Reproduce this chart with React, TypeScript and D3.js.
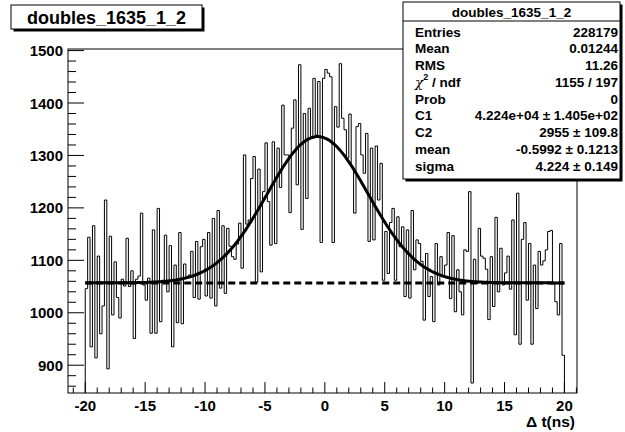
import React from "react";
import * as d3 from "d3";

// ---- data ----
const histLow = -20;
const binWidth = 0.2;
const countsA = [
  1046, 1144, 935, 1166, 914, 1108, 960, 1013, 1215, 893,
  1146, 996, 1097, 1029, 990, 1064, 1051, 1142, 1050, 1080,
  951, 1064, 1070, 1190, 1053, 1024, 1066, 961, 1158, 961,
  1199, 983, 1062, 1148, 1040, 1128, 935, 1091, 981, 1153,
  979, 1093, 1069, 1072, 1117, 1029, 1136, 1026, 1126, 1140,
];
const countsB = [
  1032, 1153, 1028, 1180, 1013, 1195, 1047, 1166, 1037, 1161,
  1127, 1107, 1102, 1131, 1171, 1085, 1301, 1169, 1177, 1256,
  1298, 1058, 1274, 1078, 1231, 1324, 1212, 1129, 1326, 1132,
  1314, 1239, 1396, 1301, 1301, 1191, 1352, 1406, 1244, 1473,
  1159, 1380, 1218, 1390, 1336, 1447, 1339, 1441, 1134, 1447,
];
const countsC = [
  1464, 1457, 1450, 1134, 1393, 1354, 1475, 1371, 1349, 1295,
  1379, 1279, 1190, 1355, 1361, 1301, 1266, 1342, 1136, 1314,
  1139, 1318, 1215, 1285, 1062, 1155, 1075, 1172, 1199, 1062,
  1183, 1126, 1164, 1031, 1158, 1028, 1195, 1082, 1139, 1132,
  1098, 986, 1113, 1031, 1069, 983, 1132, 1053, 1107,
];
const countsD = [
  1069, 1091, 1153, 1027, 1147, 1002, 1082, 1040, 996, 1120,
  1117, 1231, 866, 1102, 1056, 1161, 1108, 1104, 1083, 987,
  1107, 1012, 1182, 1040, 1123, 1053, 1076, 1108, 1045, 1177,
  958, 1228, 940, 1140, 1172, 1024, 1132, 940, 1091, 1008,
  1117, 1091, 1099, 1120, 1155, 1157, 1056, 1021, 996, 1132,
  919,
];
const counts = [...countsA, ...countsB, ...countsC, ...countsD];

// fit: flat background + gaussian (drawn appearance)
const fitBase = 1057;
const fitAmp = 279;
const fitMean = -0.5992;
const fitSigma = 4.224;
const fitRange = [-20, 20];

const xMajorTicks = [-20, -15, -10, -5, 0, 5, 10, 15, 20];
const yMajorTicks = [900, 1000, 1100, 1200, 1300, 1400, 1500];

const titleText = "doubles_1635_1_2";
const xAxisTitle = "\u0394 t(ns)";
const statLabels = ["Entries", "Mean", "RMS", "CHI", "Prob", "C1", "C2", "mean", "sigma"];
const statValues = [
  "228179",
  "0.01244",
  "11.26",
  "1155 / 197",
  "0",
  "4.224e+04 \u00b1 1.405e+02",
  "2955 \u00b1 109.8",
  "-0.5992 \u00b1 0.1213",
  "4.224 \u00b1 0.149",
];

const FONT = "'Liberation Sans', Arial, Helvetica, sans-serif";

export default function App() {
  const W = 625;
  const H = 432;
  const fx0 = 68, fx1 = 577, fy0 = 49, fy1 = 393;
  const x = d3.scaleLinear().domain([-21.44, 21.05]).range([fx0, fx1]);
  const y = d3.scaleLinear().domain([847, 1503]).range([fy1, fy0]);

  // histogram step path
  const pts: [number, number][] = [];
  pts.push([histLow, 0]);
  counts.forEach((c, i) => {
    const xl = histLow + i * binWidth;
    pts.push([xl, c]);
    pts.push([xl + binWidth, c]);
  });
  pts.push([histLow + counts.length * binWidth, 0]);
  const clampY = (v: number) => Math.max(fy0, Math.min(fy1, y(v)));
  const histPath = d3
    .line<[number, number]>()
    .x((d) => x(d[0]))
    .y((d) => clampY(d[1]))(pts) as string;

  const fitFn = (t: number) =>
    fitBase + fitAmp * Math.exp(-((t - fitMean) ** 2) / (2 * fitSigma * fitSigma));
  const fitXs = d3.range(fitRange[0], fitRange[1] + 0.0001, 0.1);
  const fitPath = d3
    .line<number>()
    .x((t) => x(t))
    .y((t) => y(fitFn(t)))
    .curve(d3.curveMonotoneX)(fitXs) as string;

  const xMinor = d3.range(-21, 21.5, 1).filter((v) => v % 5 !== 0);
  const yMinor = d3.range(860, 1501, 20).filter((v) => v % 100 !== 0);

  const rowY0 = 32;
  const rowStep = 16.75;

  return (
    <svg
      width={W}
      height={H}
      style={{ position: "absolute", left: 0, top: 0, background: "#fff" }}
      fontFamily={FONT}
      fontWeight="bold"
    >
      <rect x={0} y={0} width={W} height={H} fill="#fff" />
      {/* frame */}
      <rect x={fx0} y={fy0} width={fx1 - fx0} height={fy1 - fy0} fill="none" stroke="#000" strokeWidth={1} />

      {/* histogram */}
      <path d={histPath} fill="none" stroke="#000" strokeWidth={1} />

      {/* background dashed line */}
      <line
        x1={x(fitRange[0])}
        x2={x(fitRange[1])}
        y1={y(fitBase)}
        y2={y(fitBase)}
        stroke="#000"
        strokeWidth={3}
        strokeDasharray="7,4"
      />
      {/* fit */}
      <path d={fitPath} fill="none" stroke="#000" strokeWidth={3} />

      {/* y axis ticks */}
      {yMajorTicks.map((v) => (
        <g key={"ym" + v}>
          <line x1={fx0} x2={fx0 + 16} y1={y(v)} y2={y(v)} stroke="#000" strokeWidth={1} />
          <text x={fx0 - 5} y={y(v)} textAnchor="end" dominantBaseline="central" fontSize={15}>
            {v}
          </text>
        </g>
      ))}
      {yMinor.map((v) => (
        <line key={"yn" + v} x1={fx0} x2={fx0 + 8} y1={y(v)} y2={y(v)} stroke="#000" strokeWidth={1} />
      ))}

      {/* x axis ticks */}
      {xMajorTicks.map((v) => (
        <g key={"xm" + v}>
          <line x1={x(v)} x2={x(v)} y1={fy1} y2={fy1 - 11} stroke="#000" strokeWidth={1} />
          <text x={x(v)} y={405} textAnchor="middle" dominantBaseline="central" fontSize={15}>
            {v}
          </text>
        </g>
      ))}
      {xMinor.map((v) => (
        <line key={"xn" + v} x1={x(v)} x2={x(v)} y1={fy1} y2={fy1 - 5.5} stroke="#000" strokeWidth={1} />
      ))}
      <text x={575} y={421} textAnchor="end" dominantBaseline="central" fontSize={15.5}>
        {xAxisTitle}
      </text>

      {/* title box */}
      <rect x={13.5} y={7.5} width={191} height={24} fill="#000" />
      <rect x={11} y={5} width={191} height={24} fill="#fff" stroke="#000" strokeWidth={1} />
      <text x={106.5} y={17.5} textAnchor="middle" dominantBaseline="central" fontSize={18}>
        {titleText}
      </text>

      {/* stats box */}
      <rect x={405.5} y={4.5} width={217} height={177} fill="#000" />
      <rect x={403} y={2} width={217} height={177} fill="#fff" stroke="#000" strokeWidth={1} />
      <line x1={403} x2={620} y1={21} y2={21} stroke="#000" strokeWidth={1} />
      <text x={511.5} y={12.5} textAnchor="middle" dominantBaseline="central" fontSize={13.5}>
        {titleText}
      </text>
      {statLabels.map((lab, i) => {
        const ry = rowY0 + i * rowStep;
        return (
          <g key={"st" + i}>
            <text x={415} y={ry} dominantBaseline="central" fontSize={13.5}>
              {lab === "CHI" ? (
                <>
                  <tspan fontWeight="normal" fontFamily="'DejaVu Serif', serif" fontStyle="italic">{"\u03c7"}</tspan>
                  <tspan dy={-5} fontSize={9}>2</tspan>
                  <tspan dy={5}>{" / ndf"}</tspan>
                </>
              ) : (
                lab
              )}
            </text>
            <text x={618} y={ry} textAnchor="end" dominantBaseline="central" fontSize={13.5}>
              {statValues[i]}
            </text>
          </g>
        );
      })}
    </svg>
  );
}
